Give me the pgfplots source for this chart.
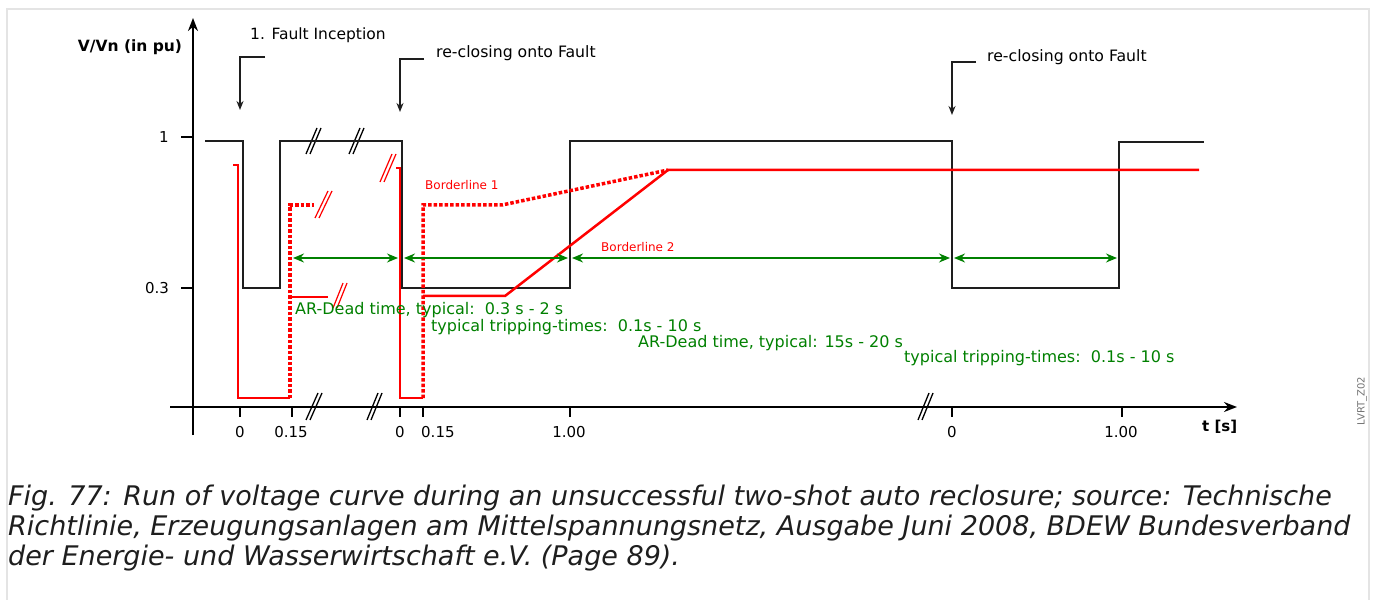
\documentclass[border=0pt]{standalone}
\usepackage{pgfplots}
\pgfplotsset{compat=1.18}
\usepackage{fontspec}
\setmainfont{DejaVu Sans}
\usetikzlibrary{arrows.meta}
\definecolor{grn}{RGB}{0,128,0}
\definecolor{frm}{RGB}{228,228,228}
\definecolor{blk}{RGB}{30,30,30}
\newcommand{\fs}[1]{\fontsize{#1}{#1}\selectfont}
\begin{document}
\begin{tikzpicture}
\begin{axis}[width=1375pt,height=598pt,scale only axis,xmin=0,xmax=1375,ymin=0,ymax=598,
  y dir=reverse,hide axis,clip=false,unbounded coords=jump]
% frame and bounds
\addplot[frm, line width=2pt] coordinates {(7,600) (7,9) (1369,9) (1369,600)};
\addplot[draw=none] coordinates {(0,0) (1375,598)};
% axes
\addplot[black, line width=2pt, -{Stealth[length=13pt,width=10pt]}] coordinates {(170,407) (1237,407)};
\addplot[black, line width=2pt, -{Stealth[length=13pt,width=10pt]}] coordinates {(193,435) (193,18)};
% y ticks
\addplot[black, line width=1.5pt] coordinates {(181,137) (193,137) (nan,nan) (181,288) (193,288)};
% x ticks
\addplot[black, line width=1.5pt] coordinates {(240,407) (240,417) (nan,nan) (292,407) (292,417) (nan,nan)
  (400,407) (400,417) (nan,nan) (423,407) (423,417) (nan,nan) (570,407) (570,417) (nan,nan)
  (952,407) (952,417) (nan,nan) (1122,407) (1122,417)};
% axis break marks
\addplot[black, line width=1.3pt] coordinates {(306,420) (318,393) (nan,nan) (310,420) (322,393) (nan,nan)
  (367,420) (378,393) (nan,nan) (371,420) (382,393) (nan,nan)
  (918,420) (929,393) (nan,nan) (922,420) (933,393)};
% top break marks
\addplot[black, line width=1.3pt] coordinates {(306,154) (317,128) (nan,nan) (310,154) (321,128) (nan,nan)
  (349,154) (360,128) (nan,nan) (353,154) (364,128)};
% black voltage curve
\addplot[blk, line width=2pt] coordinates {(205,141) (243,141) (243,288) (280,288) (280,141) (402,141)
  (402,288) (570,288) (570,141) (952,141) (952,288) (1119,288) (1119,142) (1204,142)};
% red curves
\addplot[red, line width=2.5pt] coordinates {(233,165) (238,165) (238,398) (290,398)};
\addplot[red, line width=3.5pt, dash pattern=on 3.5pt off 2pt] coordinates {(290,398) (290,205) (314,205)};
\addplot[red, line width=2.5pt] coordinates {(290,297) (328,297)};
\addplot[red, line width=2.5pt] coordinates {(396,168) (400,168) (400,398) (423,398)};
\addplot[red, line width=3.5pt, dash pattern=on 3.5pt off 2pt] coordinates {(423,398) (423,205) (502,205) (668,170)};
\addplot[red, line width=2.5pt] coordinates {(423,296) (505,296) (668,170) (1199,170)};
% red break marks
\addplot[red, line width=1.2pt] coordinates {(315,218) (328,191) (nan,nan) (319,218) (332,191) (nan,nan)
  (333,308) (343,283) (nan,nan) (337,308) (347,283) (nan,nan)
  (380,182) (392,154) (nan,nan) (384,182) (396,154)};
% green arrows
\addplot[grn, line width=1.5pt, {Stealth[length=11pt,width=9pt]}-{Stealth[length=11pt,width=9pt]}] coordinates {(293,258) (398,258)};
\addplot[grn, line width=1.5pt, {Stealth[length=11pt,width=9pt]}-{Stealth[length=11pt,width=9pt]}] coordinates {(404,258) (568,258)};
\addplot[grn, line width=1.5pt, {Stealth[length=11pt,width=9pt]}-{Stealth[length=11pt,width=9pt]}] coordinates {(572,258) (950,258)};
\addplot[grn, line width=1.5pt, {Stealth[length=11pt,width=9pt]}-{Stealth[length=11pt,width=9pt]}] coordinates {(954,258) (1117,258)};
% fault annotation arrows
\addplot[blk, line width=1.5pt, -{Stealth[length=9pt,width=7pt]}] coordinates {(265,57) (240,57) (240,110)};
\addplot[blk, line width=1.5pt, -{Stealth[length=9pt,width=7pt]}] coordinates {(424,59) (400,59) (400,112)};
\addplot[blk, line width=1.5pt, -{Stealth[length=9pt,width=7pt]}] coordinates {(976,62) (952,62) (952,115)};
% texts
\node[inner sep=0, font=\fs{15.5}\bfseries] at (axis cs:130,47) {V/Vn (in pu)};
\node[inner sep=0, font=\fs{15}] at (axis cs:164,137) {1};
\node[inner sep=0, font=\fs{15}] at (axis cs:157,288) {0.3};
\node[inner sep=0, font=\fs{15}] at (axis cs:240,432) {0};
\node[inner sep=0, font=\fs{15}] at (axis cs:291,432) {0.15};
\node[inner sep=0, font=\fs{15}] at (axis cs:400,432) {0};
\node[inner sep=0, font=\fs{15}, anchor=west] at (axis cs:421,432) {0.15};
\node[inner sep=0, font=\fs{15}] at (axis cs:569,432) {1.00};
\node[inner sep=0, font=\fs{15}] at (axis cs:952,432) {0};
\node[inner sep=0, font=\fs{15}] at (axis cs:1121,432) {1.00};
\node[inner sep=0, font=\fs{15}\bfseries, anchor=west] at (axis cs:1202,427) {t [s]};
\node[inner sep=0, font=\fs{15.5}, anchor=west] at (axis cs:250,35) {1. Fault Inception};
\node[inner sep=0, font=\fs{15.7}, anchor=west] at (axis cs:436,53) {re-closing onto Fault};
\node[inner sep=0, font=\fs{15.7}, anchor=west] at (axis cs:987,57) {re-closing onto Fault};
\node[inner sep=0, font=\fs{12}, text=red, anchor=west] at (axis cs:425,185) {Borderline 1};
\node[inner sep=0, font=\fs{12}, text=red, anchor=west] at (axis cs:601,247) {Borderline 2};
\node[inner sep=0, font=\fs{16}, text=grn, anchor=west] at (axis cs:295,310) {AR-Dead time, typical:\ \ 0.3 s - 2 s};
\node[inner sep=0, font=\fs{16}, text=grn, anchor=west] at (axis cs:431,327) {typical tripping-times:\ \ 0.1s - 10 s};
\node[inner sep=0, font=\fs{16}, text=grn, anchor=west] at (axis cs:638,343) {AR-Dead time, typical: 15s - 20 s};
\node[inner sep=0, font=\fs{16}, text=grn, anchor=west] at (axis cs:904,358) {typical tripping-times:\ \ 0.1s - 10 s};
\node[inner sep=0, font=\fs{10}, text=black!55, rotate=90] at (axis cs:1362,401) {LVRT\_Z02};
\node[inner sep=0, font=\fs{27}\itshape, text=blk, anchor=base west] at (axis cs:8,505) {Fig. 77: Run of voltage curve during an unsuccessful two-shot auto reclosure; source: Technische};
\node[inner sep=0, font=\fs{27}\itshape, text=blk, anchor=base west] at (axis cs:8,535) {Richtlinie, Erzeugungsanlagen am Mittelspannungsnetz, Ausgabe Juni 2008, BDEW Bundesverband};
\node[inner sep=0, font=\fs{27}\itshape, text=blk, anchor=base west] at (axis cs:8,565) {der Energie- und Wasserwirtschaft e.V. (Page 89).};
\end{axis}
\end{tikzpicture}
\end{document}
